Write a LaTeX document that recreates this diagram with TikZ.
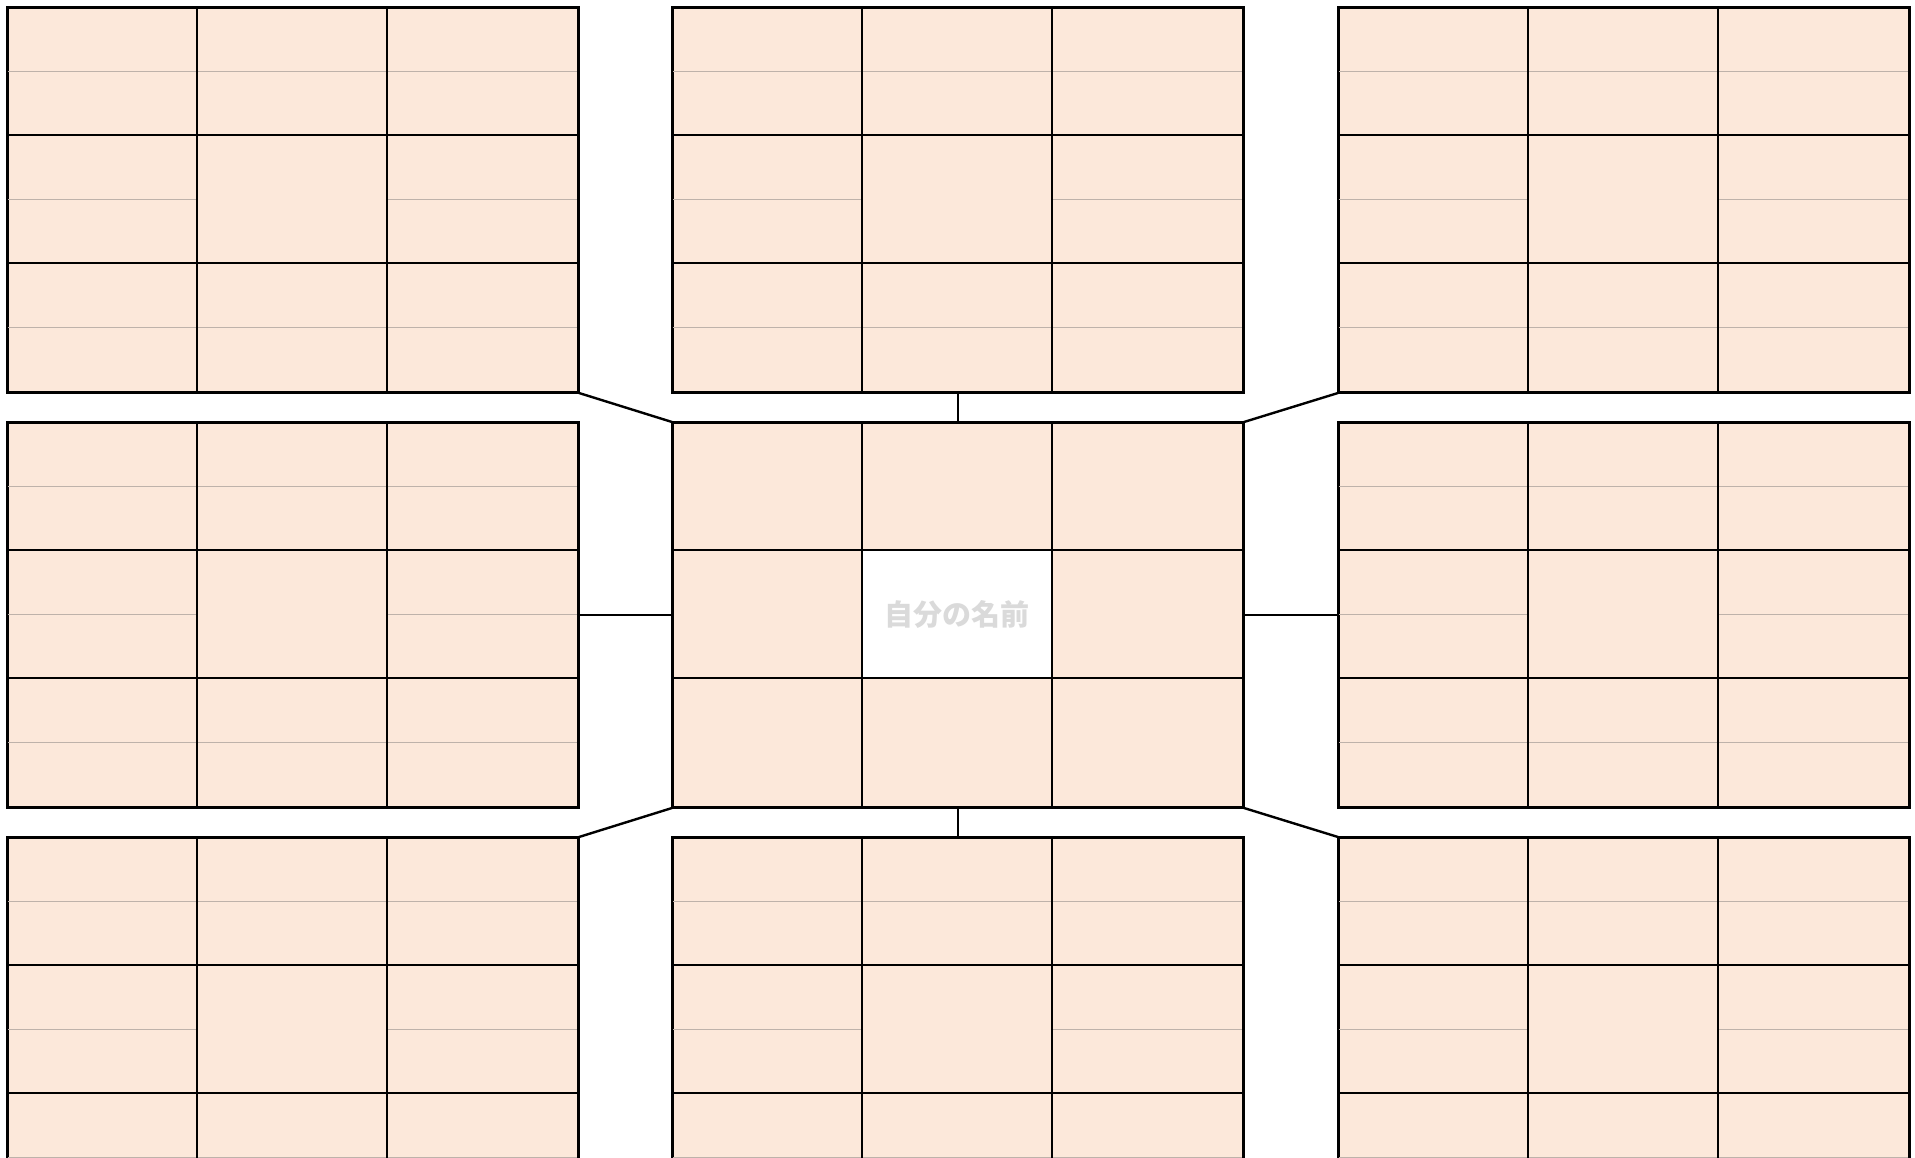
\documentclass[tikz,border=0pt]{standalone}
\usepackage{fontspec}
\newfontfamily\cjk{Noto Sans CJK JP}
\usetikzlibrary{calc}
\definecolor{peach}{RGB}{252,232,218}
\definecolor{thingray}{RGB}{190,178,170}
\definecolor{namegray}{RGB}{218,218,218}
\tikzset{
  blk/.style={draw=black, line width=2pt, fill=peach, minimum width=570pt, minimum height=384pt, inner sep=0pt, anchor=north west},
  thinln/.style={draw=thingray, line width=0.9pt},
  thickln/.style={draw=black, line width=2pt},
  conn/.style={draw=black, line width=2.4pt},
}
\begin{document}
\begin{tikzpicture}[x=1pt,y=-1pt]
\useasboundingbox (0,0) rectangle (1915,1158);
\clip (0,0) rectangle (1915,1158);
% outer blocks
\foreach \bx/\by/\nm in {7/7/tl, 672/7/tc, 1338/7/tr, 7/422/ml, 1338/422/mr, 7/837/bl, 672/837/bc, 1338/837/br} {
  \node[blk] (\nm) at (\bx,\by) {};
  \draw[thinln] ($(\nm.north west)+(0,64)$) -- ++(570,0);
  \draw[thinln] ($(\nm.north west)+(0,320)$) -- ++(570,0);
  \draw[thinln] ($(\nm.north west)+(0,192)$) -- ++(190,0);
  \draw[thinln] ($(\nm.north west)+(380,192)$) -- ++(190,0);
  \draw[thickln] ($(\nm.north west)+(190,0)$) -- ++(0,384);
  \draw[thickln] ($(\nm.north west)+(380,0)$) -- ++(0,384);
  \draw[thickln] ($(\nm.north west)+(0,128)$) -- ++(570,0);
  \draw[thickln] ($(\nm.north west)+(0,256)$) -- ++(570,0);
  \draw[thickln] (\nm.north west) rectangle (\nm.south east);
}
% center block
\node[blk] (c) at (672,422) {};
\node[fill=white, minimum width=190pt, minimum height=128pt, inner sep=0pt, font=\cjk\bfseries\fontsize{29pt}{30pt}\selectfont, text=namegray] (name) at (957,614) {自分の名前};
\draw[thickln] ($(c.north west)+(190,0)$) -- ++(0,384);
\draw[thickln] ($(c.north west)+(380,0)$) -- ++(0,384);
\draw[thickln] ($(c.north west)+(0,128)$) -- ++(570,0);
\draw[thickln] ($(c.north west)+(0,256)$) -- ++(570,0);
\draw[thickln] (c.north west) rectangle (c.south east);
% connectors
\draw[conn] (tl.south east) -- (c.north west);
\draw[conn] (tc.south) -- (c.north);
\draw[conn] (tr.south west) -- (c.north east);
\draw[conn] (ml.east) -- (c.west);
\draw[conn] (mr.west) -- (c.east);
\draw[conn] (bl.north east) -- (c.south west);
\draw[conn] (bc.north) -- (c.south);
\draw[conn] (br.north west) -- (c.south east);
\end{tikzpicture}
\end{document}
